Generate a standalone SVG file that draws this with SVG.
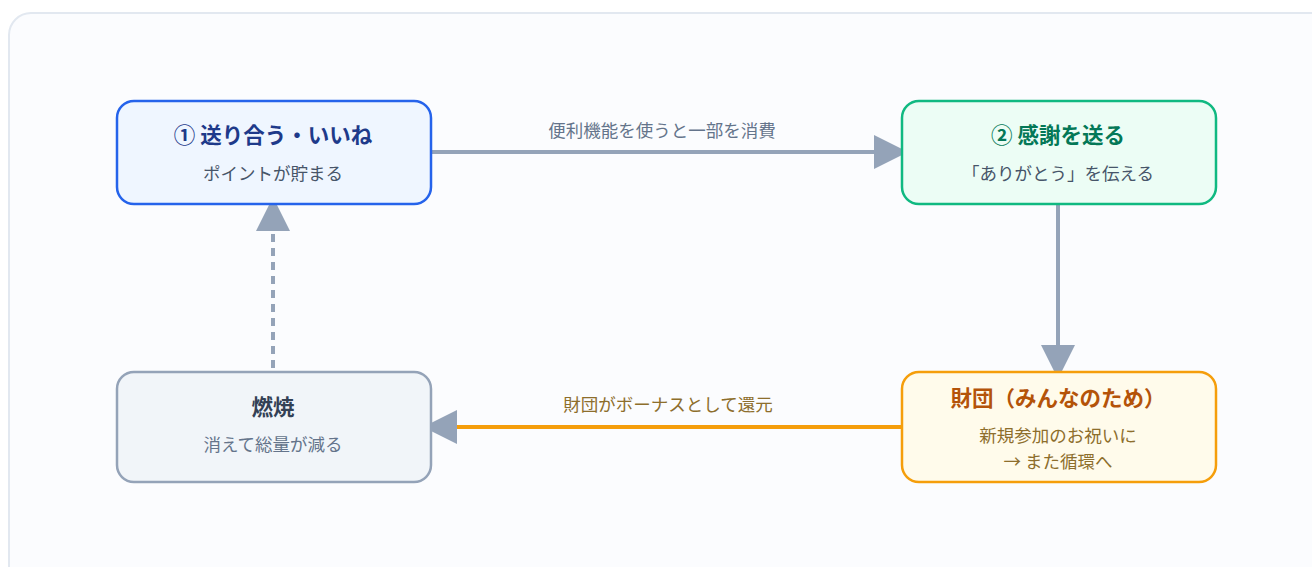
<svg xmlns="http://www.w3.org/2000/svg" width="1312" height="567" viewBox="0 0 1312 567">
<style>
text{font-family:"Noto Sans CJK JP","Noto Sans",sans-serif;text-anchor:middle}
.t{font-size:21.5px;font-weight:700}
.s{font-size:17.5px}
.lbl{font-size:17.5px}
.box{stroke-width:2.5}
</style>
<defs>
<marker id="ah" viewBox="0 0 10 10" refX="0" refY="5" markerWidth="8.5" markerHeight="8.5" markerUnits="strokeWidth" orient="auto">
<path d="M0,0 L10,5 L0,10 Z" fill="#94a3b8"/>
</marker>
</defs>
<rect width="1312" height="567" fill="#ffffff"/>
<rect x="9" y="13" width="1330" height="580" rx="22" fill="#fbfcfe" stroke="#e2e8f0" stroke-width="2"/>
<g id="connectors">
<line x1="431" y1="152" x2="874" y2="152" stroke="#94a3b8" stroke-width="4" marker-end="url(#ah)"/>
<text class="lbl" x="662" y="137" fill="#64748b">便利機能を使うと一部を消費</text>
<line x1="1058" y1="204" x2="1058" y2="345" stroke="#94a3b8" stroke-width="4" marker-end="url(#ah)"/>
<line x1="905" y1="427" x2="457" y2="427" stroke="#f59e0b" stroke-width="4" marker-end="url(#ah)"/>
<text class="lbl" x="668" y="411" fill="#8d6e2c">財団がボーナスとして還元</text>
<line x1="273" y1="368" x2="273" y2="231" stroke="#94a3b8" stroke-width="4" stroke-dasharray="8 6" marker-end="url(#ah)"/>
</g>
<g id="node-send">
<rect class="box" x="117" y="101" width="314" height="103" rx="17" fill="#eff6ff" stroke="#2563eb"/>
<text class="t" x="273" y="143" fill="#1e3a8a">① 送り合う・いいね</text>
<text class="s" x="273" y="180" fill="#475569">ポイントが貯まる</text>
</g>
<g id="node-thanks">
<rect class="box" x="902" y="101" width="314" height="103" rx="17" fill="#ecfdf5" stroke="#10b981"/>
<text class="t" x="1058" y="143" fill="#047857">② 感謝を送る</text>
<text class="s" x="1058" y="180" fill="#475569">「ありがとう」を伝える</text>
</g>
<g id="node-burn">
<rect class="box" x="117" y="372" width="314" height="110" rx="17" fill="#f1f5f9" stroke="#94a3b8"/>
<text class="t" x="273" y="415" fill="#334155">燃焼</text>
<text class="s" x="273" y="451" fill="#64748b">消えて総量が減る</text>
</g>
<g id="node-foundation">
<rect class="box" x="902" y="372" width="314" height="110" rx="17" fill="#fffbeb" stroke="#f59e0b"/>
<text class="t" x="1058" y="406" fill="#b45309">財団（みんなのため）</text>
<text class="s" x="1058" y="442" fill="#8d6e2c">新規参加のお祝いに</text>
<text class="s" x="1058" y="468" fill="#8d6e2c">→ また循環へ</text>
</g>
</svg>
